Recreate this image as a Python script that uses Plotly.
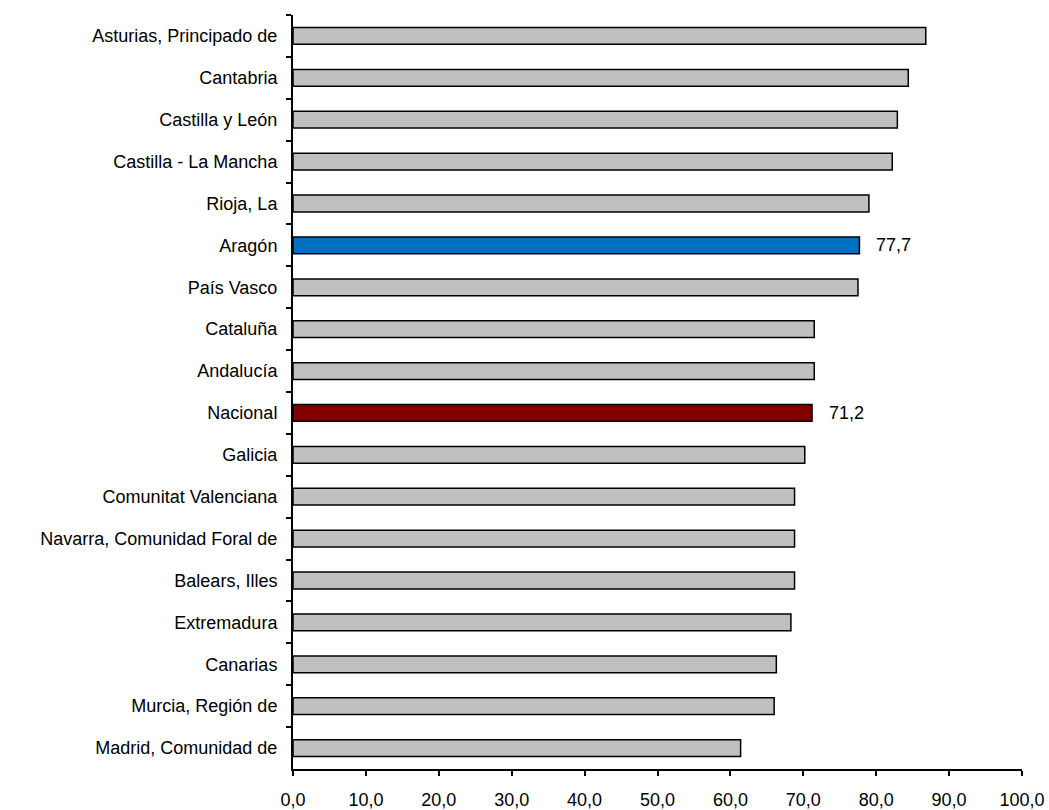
import plotly.graph_objects as go

regions = [
    "Asturias, Principado de", "Cantabria", "Castilla y León", "Castilla - La Mancha",
    "Rioja, La", "Aragón", "País Vasco", "Cataluña", "Andalucía", "Nacional",
    "Galicia", "Comunitat Valenciana", "Navarra, Comunidad Foral de", "Balears, Illes",
    "Extremadura", "Canarias", "Murcia, Región de", "Madrid, Comunidad de",
]
values = [86.8, 84.4, 82.9, 82.2, 79.0, 77.7, 77.5, 71.5, 71.5, 71.2,
          70.2, 68.8, 68.8, 68.8, 68.3, 66.3, 66.0, 61.4]
highlight_colors = {"Aragón": "#0070C0", "Nacional": "#800000"}
labelled = ["Aragón", "Nacional"]
x_ticks = [0, 10, 20, 30, 40, 50, 60, 70, 80, 90, 100]
x_tick_labels = ["0,0", "10,0", "20,0", "30,0", "40,0", "50,0",
                 "60,0", "70,0", "80,0", "90,0", "100,0"]

colors = [highlight_colors.get(r, "#C0C0C0") for r in regions]

fig = go.Figure(go.Bar(
    x=values, y=regions, orientation="h",
    marker=dict(color=colors, line=dict(color="black", width=1.5)),
    width=0.4,
))

for r, v in zip(regions, values):
    if r in labelled:
        fig.add_annotation(x=v, y=r, text=f"{v:.1f}".replace(".", ","),
                           showarrow=False, xanchor="left", xshift=15,
                           font=dict(size=18, color="black"))

fig.update_layout(
    width=1049, height=810,
    margin=dict(l=293, r=27, t=15, b=41),
    paper_bgcolor="white", plot_bgcolor="white",
    font=dict(family="Liberation Sans, Arial", size=18, color="black"),
    separators=", ",
    showlegend=False,
)
fig.update_xaxes(
    range=[0, 100], tickvals=x_ticks, ticktext=x_tick_labels, automargin=False,
    showgrid=False, zeroline=False, showline=True, linecolor="black", linewidth=2,
    ticks="outside", ticklen=5, tickcolor="black", tickwidth=1.5,
    ticklabelstandoff=8,
)
fig.update_yaxes(
    autorange="reversed", automargin=False,
    showgrid=False, showline=True, linecolor="black", linewidth=2,
    ticks="outside", ticklen=5, tickcolor="black", tickwidth=1.5, tickson="boundaries",
    ticklabelstandoff=10,
)

fig.write_html("out.html", config={"displayModeBar": False},
               post_script="document.body.style.margin='0';")
